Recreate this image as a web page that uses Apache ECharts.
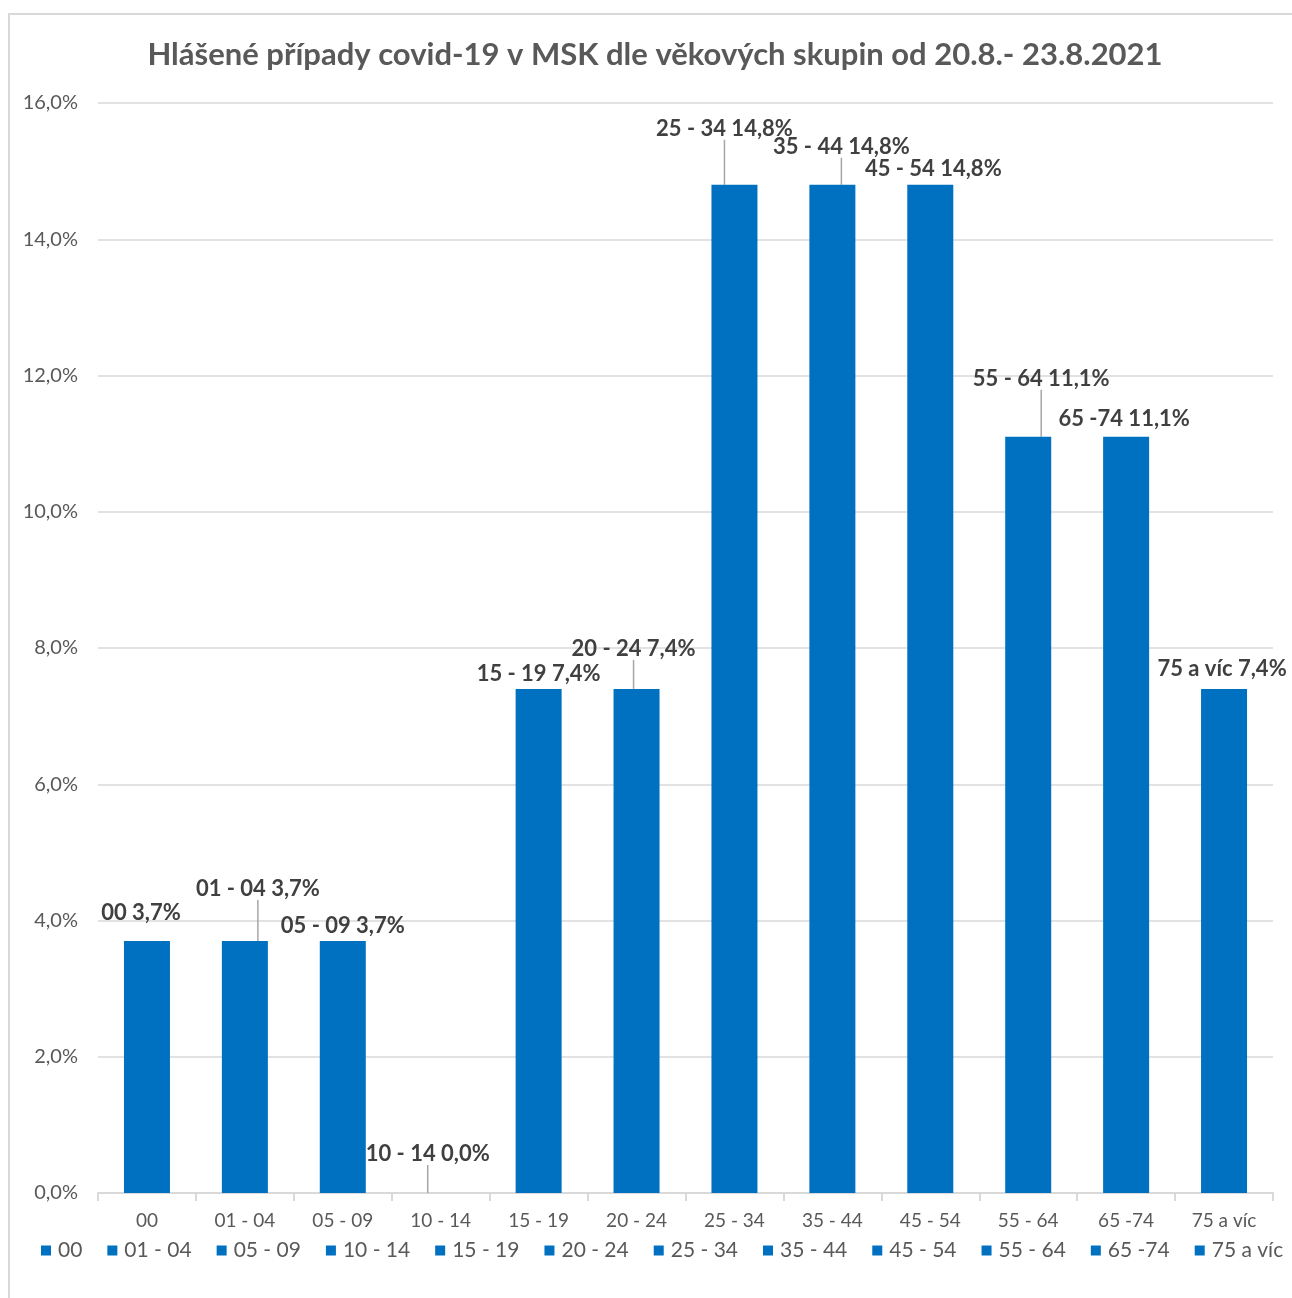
<!DOCTYPE html>
<html>
<head>
<meta charset="utf-8">
<script src="https://cdn.jsdelivr.net/npm/echarts@6/dist/echarts.min.js"></script>
<style>
html,body{margin:0;padding:0;background:#fff;}
#chart{width:1292px;height:1298px;}
</style>
</head>
<body>
<div id="chart"></div>
<script>
const titleText = 'Hlášené případy covid-19 v MSK dle věkových skupin od 20.8.- 23.8.2021';
const categories = ['00','01 - 04','05 - 09','10 - 14','15 - 19','20 - 24','25 - 34','35 - 44','45 - 54','55 - 64','65 -74','75 a víc'];
const values = [3.7, 3.7, 3.7, 0.0, 7.4, 7.4, 14.8, 14.8, 14.8, 11.1, 11.1, 7.4];
const yTicks = [0, 2, 4, 6, 8, 10, 12, 14, 16];

// label placement (style only): offset from default top position, and whether a leader line is drawn
const labelDx = [-6, 13, 0, -13, 0, -3, -10, 9, 3, 13, -2, -2];
const labelDy = [-12, -36, 1, -23, 1, -24, -40, -22, 0, -42, -2, -4];
const labelLineOn = [false, true, false, true, false, true, true, true, false, true, false, false];

const FONT = 'Lato, "Open Sans", sans-serif';
const BLUE = '#0070C0';
const fmt = v => v.toFixed(1).replace('.', ',') + '%';

const series = categories.map((name, i) => ({
  name: name,
  type: 'bar',
  stack: 'all',
  barWidth: 46,
  itemStyle: { color: BLUE },
  data: categories.map((c, j) => (j === i ? values[i] : '-')),
  label: {
    show: true,
    position: 'top',
    distance: 5,
    fontFamily: FONT,
    fontWeight: 'bold',
    fontSize: 22,
    color: '#404040',
    formatter: p => p.seriesName + ' ' + fmt(p.value)
  },
  labelLine: {
    show: labelLineOn[i],
    lineStyle: { color: '#A6A6A6', width: 1.5 },
    length2: 0
  },
  labelLayout: () => ({ dx: labelDx[i], dy: labelDy[i] }),
  emphasis: { disabled: true }
}));

const chart = echarts.init(document.getElementById('chart'), null, { renderer: 'canvas' });
chart.setOption({
  animation: false,
  backgroundColor: '#fff',
  title: {
    text: titleText,
    left: 650,
    top: 34,
    textAlign: 'center',
    textStyle: { fontFamily: FONT, fontWeight: 'bold', fontSize: 31, color: '#595959' }
  },
  graphic: [{
    type: 'rect',
    shape: { x: 9, y: 14, width: 1400, height: 1400 },
    style: { fill: 'none', stroke: '#D9D9D9', lineWidth: 2 },
    silent: true,
    z: -1
  }],
  grid: { left: 98, right: 19, top: 103, bottom: 105, containLabel: false },
  legend: {
    bottom: 32,
    left: 36,
    itemWidth: 10,
    itemHeight: 10,
    itemGap: 25,
    icon: 'rect',
    data: categories,
    textStyle: { fontFamily: FONT, fontSize: 21, color: '#595959', padding: [0, 0, 0, 2] }
  },
  xAxis: {
    type: 'category',
    data: categories,
    boundaryGap: true,
    axisLine: { lineStyle: { color: '#D9D9D9', width: 2 } },
    axisTick: { show: true, alignWithLabel: false, length: 8, lineStyle: { color: '#D9D9D9', width: 2 } },
    axisLabel: { fontFamily: FONT, fontSize: 19, color: '#595959', margin: 18 }
  },
  yAxis: {
    type: 'value',
    min: yTicks[0],
    max: yTicks[yTicks.length - 1],
    interval: yTicks[1] - yTicks[0],
    axisLine: { show: false },
    axisTick: { show: false },
    splitLine: { lineStyle: { color: '#D9D9D9', width: 1.5 } },
    axisLabel: { fontFamily: FONT, fontSize: 20, color: '#595959', margin: 20, formatter: v => fmt(v) }
  },
  series: series
});
</script>
</body>
</html>
